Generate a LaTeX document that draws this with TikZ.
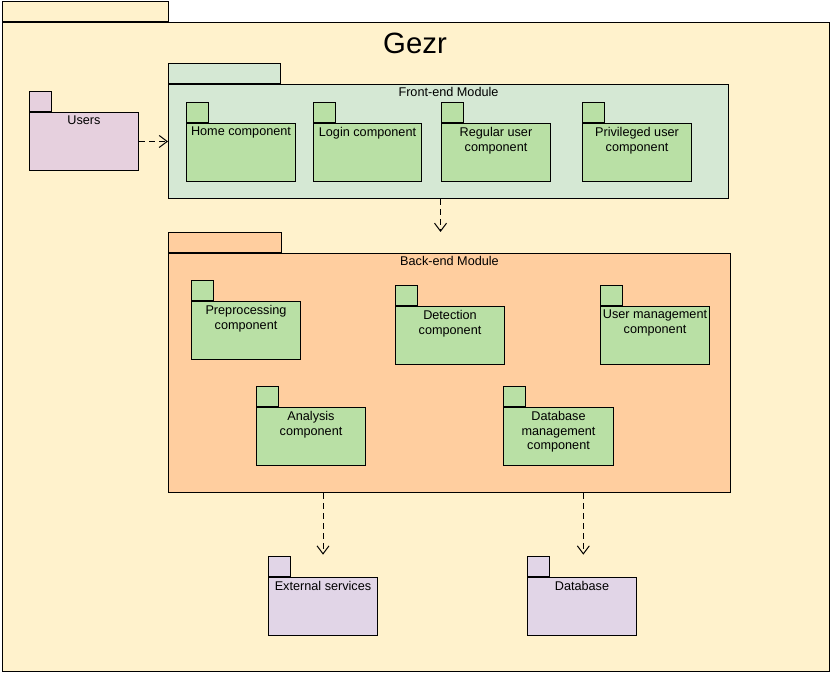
\documentclass[tikz,border=0pt]{standalone}
\usepackage{fontspec}
\setmainfont{Liberation Sans}
\usetikzlibrary{arrows.meta}
\definecolor{outerfill}{HTML}{FFF2CC}
\definecolor{userfill}{HTML}{E6D0DE}
\definecolor{frontfill}{HTML}{D5E8D4}
\definecolor{compfill}{HTML}{B9E0A5}
\definecolor{backfill}{HTML}{FFCE9F}
\definecolor{extfill}{HTML}{E1D5E7}
\tikzset{
  pkgbody/.style={draw, anchor=north west, inner sep=0pt, line width=0.75pt},
  pkgtab/.style={draw, anchor=south west, inner sep=0pt, line width=0.75pt, minimum height=15pt},
  pkglabel/.style={anchor=north, inner sep=0pt, align=center, font=\fontsize{9.5}{11}\selectfont},
  dep/.style={line width=0.75pt, dash pattern=on 4.5pt off 3pt, -{Straight Barb[length=6pt,width=9pt,line width=0.75pt]}}
}
% \pkgbox{name}{x}{y}{w}{h}{tabw}{fill}{text}{textshift}
\newcommand\pkgbox[9]{%
  \node[pkgbody, fill=#7, minimum width=#4*0.75pt, minimum height=#5*0.75pt] (#1) at (#2,#3) {};
  \node[pkgtab, fill=#7, minimum width=#6*0.75pt] (#1tab) at (#1.north west) {};
  \node[pkglabel] (#1text) at ([yshift=-#9*0.75pt]#1.north) {#8};
}
\begin{document}
\begin{tikzpicture}[x=0.75pt,y=-0.75pt]
\useasboundingbox (0,0) rectangle (831,673);
% outer package
\pkgbox{gezr}{2}{22}{827}{649}{166}{outerfill}{}{0}
\node[anchor=center, inner sep=0pt, font=\fontsize{22}{26}\selectfont] (title) at (415,43) {Gezr};
% users
\pkgbox{users}{29}{112}{109}{58}{22}{userfill}{Users}{4}
% front-end
\pkgbox{front}{168}{84}{560}{114}{112}{frontfill}{Front-end Module}{3}
\pkgbox{home}{186}{123}{109}{58}{22}{compfill}{Home component}{4}
\pkgbox{login}{313}{123}{108}{58}{22}{compfill}{Login component}{4}
\pkgbox{regular}{441}{123}{109}{58}{22}{compfill}{Regular user\\component}{4}
\pkgbox{priv}{582}{123}{109}{58}{22}{compfill}{Privileged user\\component}{4}
% back-end
\pkgbox{back}{168}{253}{562}{239}{113}{backfill}{Back-end Module}{3}
\pkgbox{prep}{191}{301}{109}{58}{22}{compfill}{Preprocessing\\component}{4}
\pkgbox{detect}{395}{306}{109}{58}{22}{compfill}{Detection\\component}{4}
\pkgbox{usermg}{600}{306}{109}{58}{22}{compfill}{User management\\component}{4}
\pkgbox{analysis}{256}{407}{109}{58}{22}{compfill}{Analysis\\component}{4}
\pkgbox{dbmg}{503}{407}{110}{58}{22}{compfill}{Database\\management\\component}{4}
% external
\pkgbox{ext}{268}{577}{109}{58}{22}{extfill}{External services}{4}
\pkgbox{db}{527}{577}{109}{58}{22}{extfill}{Database}{4}
% dependencies
\draw[dep] (users.east) -- (users.east -| front.west);
\draw[dep] ([xshift=-6pt]front.south) -- ([xshift=-6pt]front.south |- backtab.north);
\draw[dep] (ext.north |- back.south) -- ([yshift=1pt]ext.north |- exttab.north);
\draw[dep] ([xshift=1pt]db.north |- back.south) -- ([xshift=1pt,yshift=1pt]db.north |- dbtab.north);
\end{tikzpicture}
\end{document}
